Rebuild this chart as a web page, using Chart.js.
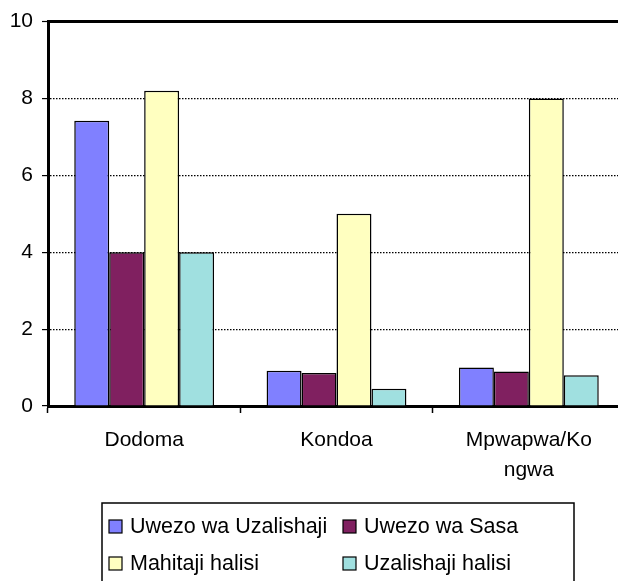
<!DOCTYPE html>
<html>
<head>
<meta charset="utf-8">
<script src="https://cdn.jsdelivr.net/npm/chart.js@4"></script>
<style>
  html, body { margin: 0; padding: 0; background: #fff; overflow: hidden; }
  #wrap { width: 640px; height: 581px; }
</style>
</head>
<body>
<div id="wrap"><canvas id="chart" width="640" height="581"></canvas></div>
<script>
const categories = ['Dodoma', 'Kondoa', ['Mpwapwa/Ko', 'ngwa']];
const seriesNames = ['Uwezo wa Uzalishaji', 'Uwezo wa Sasa', 'Mahitaji halisi', 'Uzalishaji halisi'];
const uwezoUzalishaji = [7.42, 0.92, 1.0];
const uwezoSasa = [4.0, 0.86, 0.9];
const mahitajiHalisi = [8.2, 5.0, 8.0];
const uzalishajiHalisi = [4.0, 0.45, 0.8];
const yTicks = [0, 2, 4, 6, 8, 10];

const colors = ['#8080ff', '#802060', '#ffffc0', '#a0e0e0'];
const FONT = '"Liberation Sans", Arial, sans-serif';

// legend in a box with two aligned columns
const boxLegend = {
    id: 'boxLegend',
    afterDraw(chart) {
        const c = chart.ctx;
        c.save();
        c.strokeStyle = '#000';
        c.lineWidth = 1.5;
        c.strokeRect(102, 503, 472, 100);
        const cols = [109, 343];
        const rows = [526, 563];
        c.font = '21.5px ' + FONT;
        c.textBaseline = 'middle';
        c.textAlign = 'left';
        chart.data.datasets.forEach((ds, i) => {
            const x = cols[i % 2];
            const y = rows[Math.floor(i / 2)];
            c.fillStyle = ds.backgroundColor;
            c.fillRect(x, y - 6, 13, 13);
            c.lineWidth = 1.2;
            c.strokeRect(x, y - 6, 13, 13);
            c.fillStyle = '#000';
            c.fillText(ds.label, x + 21, y + 1);
        });
        c.restore();
    }
};

const series = [uwezoUzalishaji, uwezoSasa, mahitajiHalisi, uzalishajiHalisi];

new Chart(document.getElementById('chart'), {
    type: 'bar',
    data: {
        labels: categories,
        datasets: series.map((vals, i) => ({
            label: seriesNames[i],
            data: vals,
            backgroundColor: colors[i],
            borderColor: '#000',
            borderWidth: 1.5,
            categoryPercentage: 0.727,
            barPercentage: 1
        }))
    },
    options: {
        responsive: false,
        animation: false,
        layout: { padding: { left: 0, top: 20, right: 15, bottom: 0 } },
        plugins: {
            legend: { display: false },
            tooltip: { enabled: false }
        },
        scales: {
            x: {
                afterFit: s => { s.height = 175; },
                border: { color: '#000', width: 3 },
                grid: {
                    drawOnChartArea: false,
                    tickLength: 7,
                    tickColor: '#000',
                    tickWidth: 1.5
                },
                ticks: {
                    color: '#000',
                    padding: 12,
                    maxRotation: 0,
                    autoSkip: false,
                    font: { family: FONT, size: 21, lineHeight: 1.43 }
                }
            },
            y: {
                min: 0,
                max: 10,
                afterFit: s => { s.width = 48; },
                afterBuildTicks: s => { s.ticks = yTicks.map(v => ({ value: v })); },
                border: {
                    color: '#000',
                    width: 3,
                    dash: c => (c.tick && c.tick.value === 10) ? [] : [1.5, 1.5]
                },
                grid: {
                    color: '#000',
                    lineWidth: c => (c.tick && c.tick.value === 10) ? 3 : 1.2,
                    tickLength: 6,
                    tickColor: '#000',
                    tickWidth: 1.2
                },
                ticks: {
                    color: '#000',
                    padding: 9,
                    font: { family: FONT, size: 21 }
                }
            }
        }
    },
    plugins: [boxLegend]
});
</script>
</body>
</html>
